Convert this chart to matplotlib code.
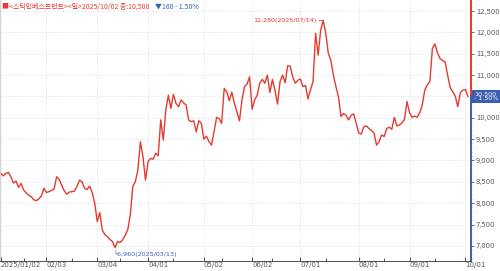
import numpy as np
import pandas as pd
import matplotlib
matplotlib.use('Agg')
import matplotlib.pyplot as plt
from matplotlib.ticker import MultipleLocator, FixedLocator, FuncFormatter

# daily closes, Stic Investments, 2025/01/02 - 2025/10/02
close = [
    8700, 8640, 8700, 8720, 8620, 8470, 8520, 8370, 8460, 8310,
    8240, 8190, 8150, 8080, 8060, 8100, 8170, 8350, 8250, 8270,
    8300, 8330, 8620, 8560, 8420, 8290, 8210, 8260, 8270, 8280,
    8390, 8540, 8500, 8350, 8320, 8400, 8250, 8000, 7570, 7780,
    7370, 7260, 7220, 7150, 7100, 6960, 7100, 7080, 7140, 7250,
    7370, 7720, 8390, 8500, 8780, 9440, 9090, 8540, 8970, 9050,
    9030, 9170, 9110, 9950, 9480, 10180, 10530, 10220, 10550, 10340,
    10260, 10420, 10350, 10300, 9950, 9910, 9930, 9670, 9930, 9870,
    9500, 9570, 9440, 9360, 9670, 10010, 9980, 9870, 10690, 10610,
    10400, 10600, 10340, 10140, 9930, 10420, 10730, 10790, 10960, 10200,
    10420, 10530, 10810, 10900, 10810, 11000, 10590, 10900, 10650, 10320,
    10850, 11000, 10820, 11220, 11210, 10960, 10810, 10880, 10910, 10730,
    10760, 10440, 10660, 10850, 11980, 11470, 12060, 12280, 11980, 11510,
    11350, 11000, 10730, 10490, 10030, 10100, 10060, 9950, 10060, 10090,
    9870, 9640, 9620, 9790, 9810, 9750, 9700, 9640, 9360, 9440,
    9600, 9560, 9750, 9780, 9730, 10010, 9810, 9830, 9880, 9960,
    10380, 10120, 10010, 10040, 10010, 10120, 10300, 10650, 10770, 10850,
    11630, 11730, 11520, 11390, 11340, 11310, 11000, 10710, 10610, 10510,
    10260, 10590, 10650, 10660, 10500,
]
holidays = ['2025-01-27', '2025-01-28', '2025-01-29', '2025-01-30', '2025-03-03',
            '2025-05-01', '2025-05-05', '2025-05-06', '2025-06-03', '2025-06-06',
            '2025-08-15']
header_red = '■<스틱인베스트먼트><일>2025/10/02 종:10,500'
header_blue = '▼160 - 1.50%'
last_label = '10,500\n- 1.50%'

days = pd.bdate_range('2025-01-02', '2025-10-02')
days = days[~days.isin(pd.to_datetime(holidays))]
close = np.array(close)
x = np.arange(len(close))
last = close[-1]

red = '#e53a2f'
blue = '#3b5fae'
gray = '#555555'
num_font = ['Liberation Sans Narrow', 'DejaVu Sans']
kr_font = ['Noto Sans CJK KR', 'DejaVu Sans']

fig = plt.figure(figsize=(5, 2.71), dpi=100)
ax = fig.add_axes([0.0, 10 / 271, 471 / 500, 261 / 271])
ax.plot(x, close, color=red, lw=1.0)

ax.set_xlim(-0.3, 185.2)
ax.set_ylim(6645, 12760)

# month ticks
month_first = [i for i in range(len(days)) if i == 0 or days[i].month != days[i - 1].month]
mid_month = [i for i in range(1, len(days)) if days[i].day >= 15 and days[i - 1].day < 15]
labels = [days[i].strftime('%Y/%m/%d') if i == 0 else days[i].strftime('%m/%d') for i in month_first]
ax.xaxis.set_major_locator(FixedLocator(month_first))
ax.xaxis.set_minor_locator(FixedLocator(mid_month))
ax.set_xticklabels(labels, ha='left', fontsize=5, color=gray, family=num_font)
ax.tick_params(axis='x', which='major', direction='in', length=3, width=0.6, color='#333333', pad=1)
ax.tick_params(axis='x', which='minor', direction='in', length=2, width=0.6, color='#333333')

ax.yaxis.tick_right()
ax.yaxis.set_major_locator(MultipleLocator(500))
ax.yaxis.set_minor_locator(MultipleLocator(100))
# the last-price box stands in for the label at the close level
ax.yaxis.set_major_formatter(FuncFormatter(lambda v, p: '' if abs(v - last) < 1 else f'{v:,.0f}'))
for lab in ax.get_yticklabels():
    lab.set_family(num_font)
ax.tick_params(axis='y', which='major', labelsize=4.9, labelcolor=gray, length=2.5, width=0.6,
               color='#555555', pad=1)
ax.tick_params(axis='y', which='minor', length=1, width=0.5, color='#888888')

ax.grid(True, which='major', color='#d6d6d6', lw=0.6, ls=(0, (1, 2)))

ax.spines['top'].set_visible(False)
ax.spines['right'].set_visible(False)
ax.spines['left'].set_color('#cccccc')
ax.spines['left'].set_linewidth(0.6)
ax.spines['bottom'].set_color('#333333')
ax.spines['bottom'].set_linewidth(0.6)

# right axis line: red above last close, blue below
ytr = ax.get_yaxis_transform()
ax.plot([1, 1], [last, 12760], color=red, lw=1.4, transform=ytr, clip_on=False)
ax.plot([1, 1], [6645, last], color=blue, lw=1.4, transform=ytr, clip_on=False)

ax.annotate(last_label, xy=(1, last), xycoords=ytr, xytext=(2, 0), textcoords='offset points',
            ha='left', va='center', fontsize=4.6, color='white', family=num_font, linespacing=1.0,
            bbox=dict(boxstyle='square,pad=0.3', fc=blue, ec='none'), annotation_clip=False,
            zorder=5)

# max / min labels
imax = int(np.argmax(close))
imin = int(np.argmin(close))
ax.annotate(f'{close[imax]:,}({days[imax]:%Y/%m/%d})', xy=(x[imax], close[imax]),
            xytext=(-5, 0), textcoords='offset points', ha='right', va='center',
            fontsize=4.6, color=red, family=num_font,
            arrowprops=dict(arrowstyle='-', color=red, lw=0.6, shrinkA=0, shrinkB=0))
ax.annotate(f'└{close[imin]:,}({days[imin]:%Y/%m/%d})', xy=(x[imin], close[imin]),
            xytext=(-1.5, -4.5), textcoords='offset points', ha='left', va='center',
            fontsize=4.6, color=blue, family=num_font)

# header
t1 = ax.text(0.004, 0.975, header_red, transform=ax.transAxes, ha='left', va='center',
             fontsize=5, color=red, family=kr_font)
ax.annotate(header_blue, xy=(1, 0.5), xycoords=t1, xytext=(4, 0), textcoords='offset points',
            ha='left', va='center', fontsize=5, color=blue, family=kr_font)

fig.savefig('out.png', dpi=100)
